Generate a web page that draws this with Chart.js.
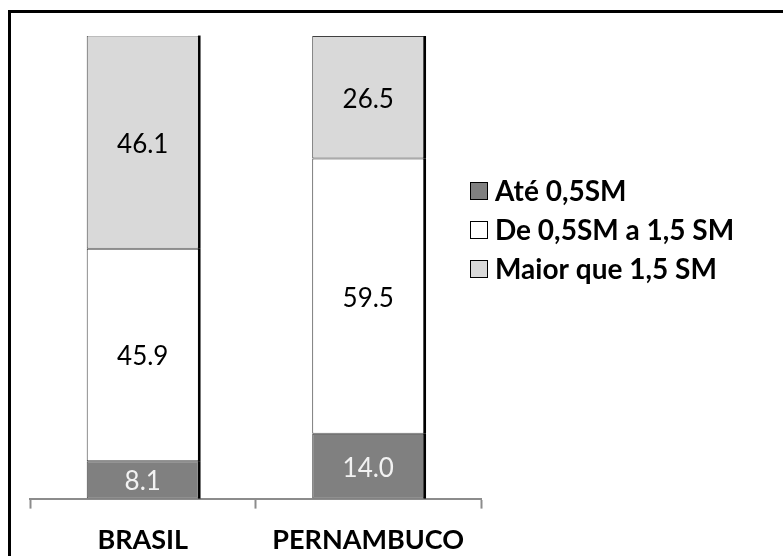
<!DOCTYPE html>
<html>
<head>
<meta charset="utf-8">
<script src="https://cdn.jsdelivr.net/npm/chart.js@4.4.1/dist/chart.umd.min.js"></script>
<style>
  html, body { margin: 0; padding: 0; background: #fff; overflow: hidden; }
  #frame {
    position: absolute; left: 8px; top: 10px;
    width: 900px; height: 700px;
    border: 3px solid #000;
  }
  #wrap { position: absolute; left: 0; top: 0; width: 783px; height: 571px; }
</style>
</head>
<body>
<div id="frame"></div>
<div id="wrap"><canvas id="renda"></canvas></div>
<script>
// faixas de renda (% da populacao)
var regioes = ['BRASIL', 'PERNAMBUCO'];
var ate05 = [8.1, 14.0];
var de05a15 = [45.9, 59.5];
var maior15 = [46.1, 26.5];

var faixas = ['Até 0,5SM', 'De 0,5SM a 1,5 SM', 'Maior que 1,5 SM'];
var cores = ['#808080', '#ffffff', '#d9d9d9'];
var corTexto = ['#f2f2f2', '#000000', '#000000'];

var fonte = 'Lato, "Open Sans", sans-serif';

// valores escritos no meio de cada segmento + sombra preta na lateral direita
const rotulos = {
  id: 'rotulos',
  afterDatasetsDraw(chart) {
    const ctx = chart.ctx;
    ctx.save();
    chart.data.datasets.forEach(function(ds, i) {
      const meta = chart.getDatasetMeta(i);
      meta.data.forEach(function(bar, j) {
        ctx.strokeStyle = '#000';
        ctx.lineWidth = 2.5;
        ctx.beginPath();
        ctx.moveTo(bar.x + bar.width / 2 + 0.5, bar.y);
        ctx.lineTo(bar.x + bar.width / 2 + 0.5, bar.base);
        ctx.stroke();

        ctx.fillStyle = corTexto[i];
        ctx.font = '26px ' + fonte;
        ctx.textAlign = 'center';
        ctx.textBaseline = 'middle';
        ctx.fillText(ds.data[j].toFixed(1), bar.x, (bar.y + bar.base) / 2 + 2);
      });
    });
    ctx.restore();
  }
};

// legenda desenhada a direita, de cima para baixo
const legenda = {
  id: 'legenda',
  afterDraw(chart) {
    const ctx = chart.ctx;
    const x = chart.chartArea.right - 11;
    const y0 = 191;
    ctx.save();
    ctx.font = 'bold 28px ' + fonte;
    ctx.textBaseline = 'middle';
    ctx.textAlign = 'left';
    faixas.forEach(function(txt, i) {
      const y = y0 + i * 39;
      ctx.fillStyle = cores[i];
      ctx.fillRect(x, y - 9, 18, 18);
      ctx.strokeStyle = '#000';
      ctx.lineWidth = 1;
      ctx.strokeRect(x + 0.5, y - 8.5, 17, 17);
      ctx.fillStyle = '#000';
      ctx.fillText(txt, x + 25, y + 1);
    });
    ctx.restore();
  }
};

const config_renda = {
  type: 'bar',
  data: {
    labels: regioes,
    datasets: [
      { label: faixas[0], data: ate05, backgroundColor: cores[0] },
      { label: faixas[1], data: de05a15, backgroundColor: cores[1] },
      { label: faixas[2], data: maior15, backgroundColor: cores[2] }
    ]
  },
  options: {
    responsive: true,
    maintainAspectRatio: false,
    animation: false,
    datasets: {
      bar: {
        borderColor: '#404040',
        borderWidth: 1,
        borderSkipped: false,
        categoryPercentage: 1,
        barPercentage: 0.497
      }
    },
    layout: { padding: { left: 30, right: 302, top: 36, bottom: 0 } },
    plugins: {
      legend: { display: false },
      tooltip: { enabled: false }
    },
    scales: {
      x: {
        stacked: true,
        offset: true,
        grid: {
          display: true,
          offset: true,
          drawOnChartArea: false,
          tickLength: 10,
          tickWidth: 2,
          tickColor: '#8c8c8c'
        },
        border: { display: true, color: '#8c8c8c', width: 2 },
        ticks: {
          color: '#000',
          padding: 15,
          font: { family: fonte, size: 27, weight: 'bold' }
        }
      },
      y: {
        stacked: true,
        display: false,
        min: 0,
        max: 100
      }
    }
  },
  plugins: [rotulos, legenda]
};

const ChartRenda = new Chart(
  document.getElementById('renda'),
  config_renda
);
</script>
</body>
</html>
